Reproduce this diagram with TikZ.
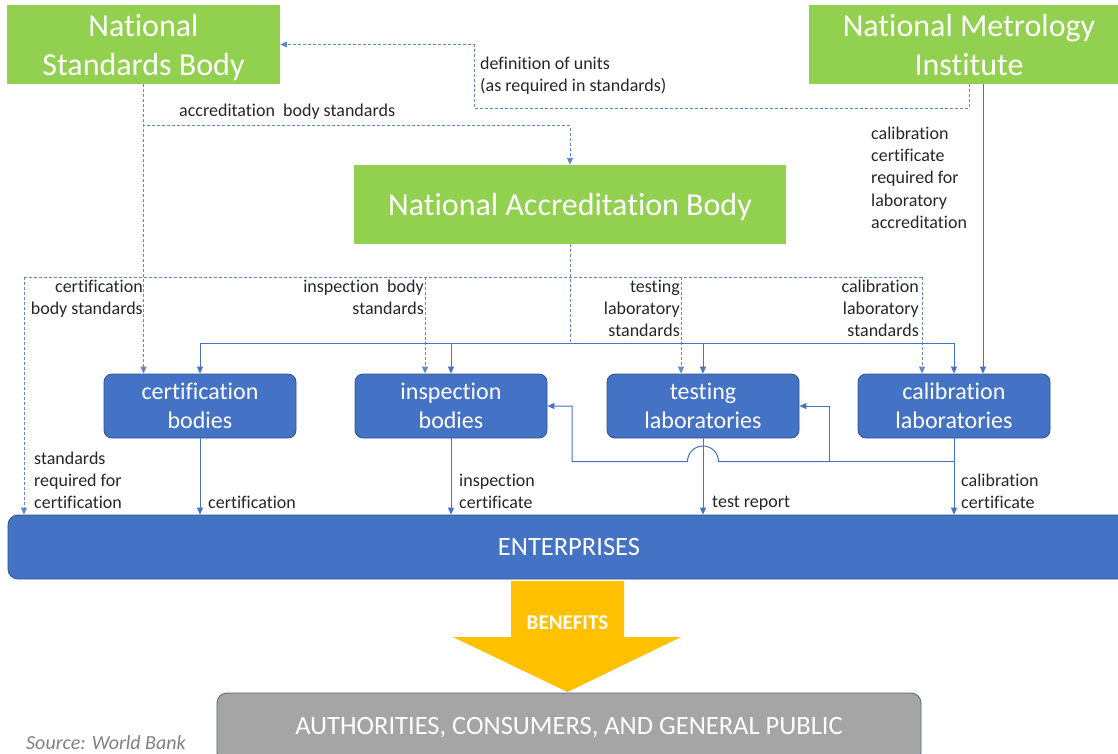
\documentclass[tikz,border=0pt]{standalone}
\usepackage{fontspec}
\setmainfont{Carlito}[Ligatures=NoCommon]
\usetikzlibrary{arrows.meta}
\definecolor{natgreen}{HTML}{92D050}
\definecolor{accblue}{HTML}{4472C4}
\definecolor{accedge}{HTML}{2F528F}
\definecolor{benefityellow}{HTML}{FFC000}
\definecolor{pubgrey}{HTML}{A5A5A5}
\definecolor{labeltext}{HTML}{262626}

\begin{document}
\begin{tikzpicture}[x=1pt, y=-1pt,
    greenbox/.style={fill=natgreen, text=white, align=center, inner sep=0pt, minimum height=79pt, text depth=0pt, font=\fontsize{32}{39}\selectfont},
    bluebox/.style={fill=accblue, draw=accedge, line width=0.8pt, rounded corners=8pt, text=white, align=center, inner sep=0pt, minimum width=192pt, minimum height=64pt, font=\fontsize{24}{29}\selectfont},
    lbl/.style={text=labeltext, inner sep=0pt, font=\fontsize{18}{22.3}\selectfont},
    link/.style={draw=accblue, line width=1pt},
    dlink/.style={draw=accblue!85, line width=0.9pt, dash pattern=on 3pt off 2pt},
    headed/.style={-{Triangle[length=7pt,width=6pt]}}
  ]
  \clip (0,0) rectangle (1118,753);

  % top row
  \node[greenbox, minimum width=273pt] (nsb) at (143.5,44.5) {National\\Standards Body};
  \node[greenbox, minimum width=320pt] (nmi) at (969,44.5) {National Metrology\\Institute};
  \node[greenbox, minimum width=432pt] (nab) at (570,204.5) {National Accreditation Body};

  % bodies and laboratories
  \node[bluebox] (cert) at (200,406) {certification\\bodies};
  \node[bluebox] (insp) at (451,406) {inspection\\bodies};
  \node[bluebox] (test) at (703,406) {testing\\laboratories};
  \node[bluebox] (cal) at (954,406) {calibration\\laboratories};

  \node[fill=accblue, draw=accedge, line width=0.8pt, rounded corners=10pt, minimum width=1122pt, minimum height=64pt, text=white, font=\fontsize{26.5}{32}\selectfont] (ent) at (569,547) {ENTERPRISES};
  \node[fill=pubgrey, draw=accedge!60!gray, line width=0.8pt, rounded corners=10pt, minimum width=704pt, minimum height=70pt, text=white, font=\fontsize{26.5}{32}\selectfont] (pub) at (569,728) {AUTHORITIES, CONSUMERS, AND GENERAL PUBLIC};

  \fill[benefityellow] (511,581) -- (624,581) -- (624,637) -- (681,637) -- (567.5,692) -- (453,637) -- (511,637) -- cycle;
  \node[text=white, font=\bfseries\fontsize{21}{25}\selectfont] (benefits) at (567.5,623) {BENEFITS};
  \node[anchor=west, inner sep=0pt, text=black!50, font=\itshape\fontsize{20}{24}\selectfont] (source) at (26,743) {Source: World Bank};

  % dashed standards links
  \coordinate (unitsbend) at (474,108);
  \draw[dlink, headed] (nmi.south) |- (unitsbend) |- (nsb.east);
  \draw[dlink, headed] (nsb.south) |- ([yshift=39pt]nab.north) -- (nab.north);
  \draw[dlink, headed] (nsb.south) -- (nsb.south |- cert.north);

  \coordinate (dbus) at (24,277);
  \coordinate (inspstd) at ([xshift=-26pt]insp.north);
  \coordinate (teststd) at ([xshift=-22pt]test.north);
  \coordinate (calstd) at ([xshift=-32pt]cal.north);
  \draw[dlink] (dbus) -- (dbus -| calstd);
  \draw[dlink, headed] (dbus) -- (dbus |- ent.north);
  \foreach \s in {inspstd,teststd,calstd}
    \draw[dlink, headed] (dbus -| \s) -- (\s);

  % accreditation
  \coordinate (sbus) at (570,343);
  \draw[dlink] (nab.south) -- (sbus);
  \draw[link] (sbus -| cert.north) -- (sbus -| cal.north);
  \foreach \b in {cert,insp,test,cal}
    \draw[link, headed] (sbus -| \b.north) -- (\b.north);

  \coordinate (nmiout) at ([xshift=14pt]nmi.south);
  \draw[link, headed] (nmiout) -- (nmiout |- cal.north);

  % outputs to the enterprises
  \foreach \b in {cert,insp,test,cal}
    \draw[link, headed] (\b.south) -- (\b.south |- ent.north);

  % calibration back to the other labs
  \coordinate (fbsplit) at (829,461.5);
  \coordinate (fbleft) at (572,461.5);
  \coordinate (hop) at (test.south |- fbsplit);
  \draw[link] (cal.south |- fbsplit) -- (fbsplit);
  \draw[link, headed] (fbsplit) |- (test.east);
  \draw[link, headed] (fbsplit) -- ([xshift=15.5pt]hop) arc[start angle=0, end angle=180, radius=15.5pt] -- (fbleft) |- (insp.east);

  % labels
  \node[lbl, anchor=north west, align=left] (unitslbl) at (480,56.5) {definition of units\\(as required in standards)};
  \node[lbl, anchor=west] (acclbl) at (179,111.5) {accreditation\ \ body standards};
  \node[lbl, anchor=north west, align=left] (nmilbl) at (871,126.5) {calibration\\certificate\\required for\\laboratory\\accreditation};
  \node[lbl, anchor=north east, align=right] (certstdlbl) at (143,279.5) {certification\\body standards};
  \node[lbl, anchor=north east, align=right] (inspstdlbl) at (424,279.5) {inspection\ \ body\\standards};
  \node[lbl, anchor=north east, align=right] (teststdlbl) at (680,279.5) {testing\\laboratory\\standards};
  \node[lbl, anchor=north east, align=right] (calstdlbl) at (919,279.5) {calibration\\laboratory\\standards};
  \node[lbl, anchor=north west, align=left] (reqlbl) at (34,451.5) {standards\\required for\\certification};
  \node[lbl, anchor=north west, align=left] (certlbl) at (208,496) {certification};
  \node[lbl, anchor=north west, align=left] (insplbl) at (459,473.5) {inspection\\certificate};
  \node[lbl, anchor=north west, align=left] (testlbl) at (712,496) {test report};
  \node[lbl, anchor=north west, align=left] (callbl) at (961,473.5) {calibration\\certificate};
\end{tikzpicture}
\end{document}
